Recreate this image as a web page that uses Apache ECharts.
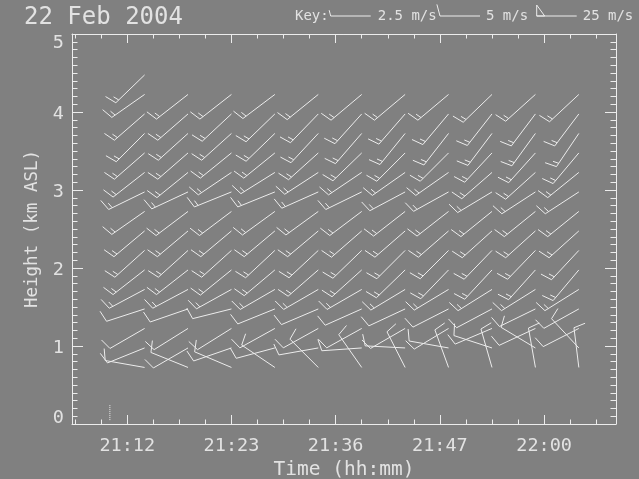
<!DOCTYPE html>
<html><head><meta charset="utf-8">
<script src="https://cdn.jsdelivr.net/npm/echarts@6/dist/echarts.min.js"></script>
<style>html,body{margin:0;padding:0;background:#808080}#c{width:639px;height:479px}</style>
</head><body><div id="c"></div>
<script>
// ---------------- data ----------------
const times = ['21:14','21:19','21:24','21:29','21:34','21:39','21:44','21:49','21:54','21:59','22:04'];
const heights = [0.725,0.975,1.225,1.475,1.725,1.975,2.225,2.475,2.725,2.975,3.225,3.475,3.725,3.975,4.225,4.475];
// wind direction (deg, from) per height, one value per time column
const dir_h0725 = [280,292,293,304,315,325,333,340,344,350,353];
const dir_h0975 = [248,240,251,255,260,266,273,280,288,301,317];
const dir_h1225 = [240,238,238,241,241,241,240,239,247,245,243];
const dir_h1475 = [252,251,256,248,247,246,245,243,242,244,241];
const dir_h1725 = [242,242,241,240,240,240,239,239,238,238,238];
const dir_h1975 = [232,232,231,230,229,228,226,224,223,222,220];
const dir_h2225 = [228,228,228,227,227,226,225,225,224,224,223];
const dir_h2475 = [230,230,230,230,230,229,229,229,228,228,228];
const dir_h2725 = [235,233,233,234,234,233,232,232,231,231,231];
const dir_h2975 = [244,245,248,248,246,244,242,241,239,237,237];
const dir_h3225 = [232,231,236,238,237,236,235,235,229,228,231];
const dir_h3475 = [229,229,231,231,228,226,225,225,223,222,220];
const dir_h3725 = [225,228,228,226,223,221,219,218,217,216,214];
const dir_h3975 = [229,229,227,226,224,222,221,220,218,217,217];
const dir_h4225 = [235,232,232,233,231,230,230,230,226,228,227];
const dir_h4475 = [226,null,null,null,null,null,null,null,null,null,null];
// wind speed (m/s)
const spd_h0725 = [5,5,5,5,5,5,5,5,5,5,5];
const spd_h0975 = [5,5,5,5,5,5,5,5,5,5,5];
const spd_h1225 = [5,5,5,5,5,5,5,5,5,5,5];
const spd_h1475 = [5,5,5,5,5,5,5,5,5,5,5];
const spd_h1725 = [7.5,7.5,7.5,7.5,7.5,7.5,7.5,7.5,7.5,7.5,7.5];
const spd_h1975 = [7.5,7.5,7.5,7.5,7.5,7.5,7.5,7.5,7.5,7.5,7.5];
const spd_h2225 = [7.5,7.5,7.5,7.5,7.5,7.5,7.5,7.5,7.5,7.5,7.5];
const spd_h2475 = [7.5,7.5,7.5,7.5,7.5,7.5,7.5,7.5,7.5,7.5,7.5];
const spd_h2725 = [7.5,7.5,7.5,7.5,7.5,7.5,7.5,7.5,7.5,7.5,7.5];
const spd_h2975 = [7.5,7.5,7.5,7.5,7.5,7.5,7.5,7.5,7.5,7.5,7.5];
const spd_h3225 = [7.5,7.5,7.5,7.5,7.5,7.5,7.5,7.5,7.5,7.5,7.5];
const spd_h3475 = [7.5,7.5,7.5,7.5,7.5,7.5,7.5,7.5,7.5,7.5,7.5];
const spd_h3725 = [7.5,7.5,7.5,7.5,7.5,7.5,7.5,7.5,7.5,7.5,7.5];
const spd_h3975 = [7.5,7.5,7.5,7.5,7.5,7.5,7.5,7.5,7.5,7.5,7.5];
const spd_h4225 = [7.5,7.5,7.5,7.5,7.5,7.5,7.5,7.5,7.5,7.5,7.5];
const spd_h4475 = [7.5,null,null,null,null,null,null,null,null,null,null];
// dotted marker near the ground
const markerTime = '21:10';
const markerHeights = [0.05, 0.25];
// axis ticks
const xMajorTicks = [21.2,21.4,21.6,21.8,22.0];
const xTickLabels = ['21:12','21:23','21:36','21:47','22:00'];
const xMinorTicks = [21.1,21.15,21.25,21.3,21.35,21.45,21.5,21.55,21.65,21.7,21.75,21.85,21.9,21.95,22.05,22.1];
const yTickLabels = ['0','1','2','3','4','5'];
const keySpeeds = [2.5, 5, 25];
const keyLabels = ['2.5 m/s','5 m/s','25 m/s'];

// ---------------- build ----------------
const dirRows = [dir_h0725,dir_h0975,dir_h1225,dir_h1475,dir_h1725,dir_h1975,dir_h2225,dir_h2475,dir_h2725,dir_h2975,dir_h3225,dir_h3475,dir_h3725,dir_h3975,dir_h4225,dir_h4475];
const spdRows = [spd_h0725,spd_h0975,spd_h1225,spd_h1475,spd_h1725,spd_h1975,spd_h2225,spd_h2475,spd_h2725,spd_h2975,spd_h3225,spd_h3475,spd_h3725,spd_h3975,spd_h4225,spd_h4475];
function hrs(s){const p=s.split(':');return +p[0]+(+p[1])/60;}
const barbData=[];
heights.forEach((h,r)=>{times.forEach((t,c)=>{const d=dirRows[r][c];if(d!=null)barbData.push([hrs(t),h,d,spdRows[r][c]]);});});

const FG='#ececec', TXT='#e2e2e2', FONT='DejaVu Sans Mono';
function barbChildren(cx,cy,dirDeg,spd){
  const L=40,FULL=12,HALF=6,GAP=4,PW=8,PH=11,tilt=15*Math.PI/180;
  const d=dirDeg*Math.PI/180;
  const ux=Math.sin(d),uy=-Math.cos(d);
  const px=Math.cos(d),py=Math.sin(d);
  const fx=px*Math.cos(tilt)+ux*Math.sin(tilt),fy=py*Math.cos(tilt)+uy*Math.sin(tilt);
  const tx=cx+L*ux,ty=cy+L*uy;
  const st={stroke:FG,lineWidth:1,fill:'none'};
  const kids=[{type:'line',shape:{x1:cx,y1:cy,x2:tx,y2:ty},style:st}];
  let s=Math.round(spd/2.5)*2.5,pos=0;
  const P=k=>[tx-ux*k,ty-uy*k];
  while(s>=25){const a=P(pos),b=P(pos+PW);kids.push({type:'polygon',shape:{points:[a,[a[0]+px*PH,a[1]+py*PH],b]},style:st});pos+=PW+2;s-=25;}
  while(s>=5){const a=P(pos);kids.push({type:'line',shape:{x1:a[0],y1:a[1],x2:a[0]+fx*FULL,y2:a[1]+fy*FULL},style:st});pos+=GAP;s-=5;}
  if(s>=2.5){const a=P(pos);kids.push({type:'line',shape:{x1:a[0],y1:a[1],x2:a[0]+fx*HALF,y2:a[1]+fy*HALF},style:st});}
  return kids;
}

const chart=echarts.init(document.getElementById('c'),null,{renderer:'canvas'});
const XMIN=21.094,XMAX=22.138;
const lineSt={color:FG,width:1};
function xAx(pos,major,withLabel){
  const a={type:'value',min:XMIN,max:XMAX,position:pos,splitLine:{show:false},
    axisLine:{show:major,lineStyle:lineSt},
    axisTick:{show:true,inside:true,length:major?9:4.5,customValues:major?xMajorTicks:xMinorTicks,lineStyle:lineSt},
    axisLabel:{show:false}};
  if(withLabel){
    a.axisLabel={show:true,customValues:xMajorTicks,color:TXT,fontFamily:FONT,fontSize:18.5,margin:12.5,
      formatter:v=>{const i=xMajorTicks.findIndex(m=>Math.abs(m-v)<1e-6);return i>=0?xTickLabels[i]:'';}};
    a.name='Time (hh:mm)';a.nameLocation='middle';a.nameGap=35;
    a.nameTextStyle={color:TXT,fontFamily:FONT,fontSize:19.5};
  }
  return a;
}
const yRichBase={color:TXT,fontFamily:FONT,fontSize:18.5};
function yAx(pos,withLabel){
  const a={type:'value',min:0,max:5,interval:1,position:pos,splitLine:{show:false},
    axisLine:{show:true,lineStyle:lineSt},
    axisTick:{show:true,inside:true,length:11,lineStyle:lineSt},
    minorTick:{show:true,splitNumber:10,length:5.5,lineStyle:lineSt},
    axisLabel:{show:false}};
  if(withLabel){
    a.axisLabel={show:true,color:TXT,fontFamily:FONT,fontSize:18.5,margin:8,verticalAlign:'middle',
      formatter:v=>{const i=Math.round(v);const t=yTickLabels[i];
        return i===0?'{lo|'+t+'}':(i===5?'{hi|'+t+'}':'{mid|'+t+'}');},
      rich:{lo:Object.assign({padding:[0,0,12,0]},yRichBase),hi:Object.assign({padding:[18,0,0,0]},yRichBase),mid:Object.assign({padding:[5,0,0,0]},yRichBase)}};
    a.name='Height (km ASL)';a.nameLocation='middle';a.nameGap=31;a.nameRotate=90;
    a.nameTextStyle={color:TXT,fontFamily:FONT,fontSize:17.5};
  }
  return a;
}

const keyStations=[370.7,480,576.7];
const keyTextX=[377.7,486,582.7];
const graphics=[
  {type:'text',left:24,top:5.5,style:{text:'22 Feb 2004',fill:TXT,font:'24px "DejaVu Sans Mono"'}},
  {type:'text',x:295,y:16.5,style:{text:'Key:',fill:TXT,font:'14px "DejaVu Sans Mono"',textVerticalAlign:'middle'}}
];
keySpeeds.forEach((s,i)=>{
  graphics.push({type:'group',children:barbChildren(keyStations[i],16,270,s)});
  graphics.push({type:'text',x:keyTextX[i],y:16.5,style:{text:keyLabels[i],fill:TXT,font:'14px "DejaVu Sans Mono"',textVerticalAlign:'middle'}});
});

chart.setOption({
  backgroundColor:'#808080',
  animation:false,
  grid:{left:72,right:23,top:34,bottom:55,containLabel:false,outerBoundsMode:'none'},
  xAxis:[xAx('bottom',true,true),xAx('bottom',false,false),xAx('top',true,false),xAx('top',false,false)],
  yAxis:[yAx('left',true),yAx('right',false)],
  graphic:graphics,
  series:[
    {type:'custom',coordinateSystem:'cartesian2d',xAxisIndex:0,yAxisIndex:0,clip:false,silent:true,
     data:barbData,encode:{x:0,y:1},
     renderItem:(params,api)=>{
       const p=api.coord([api.value(0),api.value(1)]);
       return {type:'group',children:barbChildren(p[0],p[1],api.value(2),api.value(3))};
     }},
    {type:'line',xAxisIndex:0,yAxisIndex:0,silent:true,symbol:'none',
     data:markerHeights.map(h=>[hrs(markerTime),h]),
     lineStyle:{color:FG,width:1,type:[1,1]}}
  ]
});
</script></body></html>
